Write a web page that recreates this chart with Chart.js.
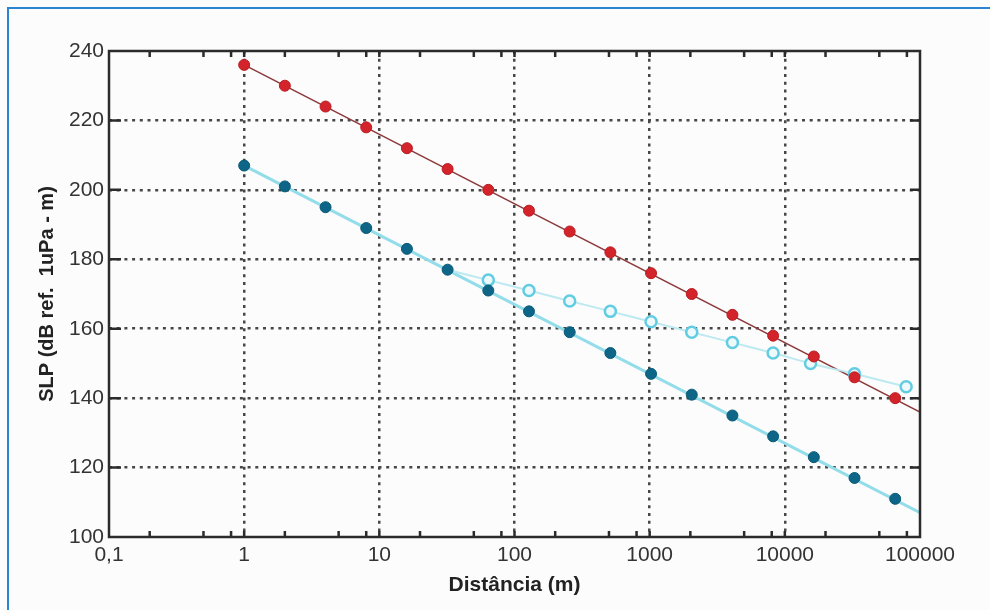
<!DOCTYPE html>
<html lang="pt">
<head>
<meta charset="utf-8">
<title>SLP x Distância</title>
<script src="https://cdn.jsdelivr.net/npm/chart.js@4.4.1/dist/chart.umd.min.js"></script>
<style>
    html, body { margin: 0; padding: 0; background: #fcfcfc; }
    #wrap { position: relative; width: 990px; height: 610px; overflow: hidden; }
    #frame {
        position: absolute; left: 7px; top: 7px; width: 1200px; height: 900px;
        border-left: 2px solid #2a84cf; border-top: 2px solid #2a84cf;
    }
    #chart { position: absolute; left: 0; top: 0; }
</style>
</head>
<body>
<div id="wrap">
    <div id="frame"></div>
    <canvas id="chart" width="990" height="610"></canvas>
</div>
<script>
// Dados
const distRed   = [1, 2, 4, 8, 16, 32, 64, 128, 256, 512, 1024, 2048, 4096, 8192, 16384, 32768, 65536];
const slpRed    = [236, 230, 224, 218, 212, 206, 200, 194, 188, 182, 176, 170, 164, 158, 152, 146, 140];

const distBlue  = [1, 2, 4, 8, 16, 32, 64, 128, 256, 512, 1024, 2048, 4096, 8192, 16384, 32768, 65536];
const slpBlue   = [207, 201, 195, 189, 183, 177, 171, 165, 159, 153, 147, 141, 135, 129, 123, 117, 111];

// curva dos círculos abertos (começa saindo da curva azul em 32 m)
const distCyan  = [32, 64, 128, 256, 512, 1024, 2048, 4096, 8192, 15500, 32768, 79000];
const slpCyan   = [177, 174, 171, 168, 165, 162, 159, 156, 153, 150, 147, 143.3];

// retas de ajuste (vão até a borda direita)
const fitDist   = [1, 100000];
const fitRed    = [236, 136];
const fitBlue   = [207, 107];

// Eixos
const xDecades  = [0.1, 1, 10, 100, 1000, 10000, 100000];
const xLabels   = ['0,1', '1', '10', '100', '1000', '10000', '100000'];
const xMinor    = [2, 5, 8];
const yTicks    = [100, 120, 140, 160, 180, 200, 220, 240];

const toPts = (xs, ys) => xs.map((x, i) => ({ x: x, y: ys[i] }));

const FONT = "'Liberation Sans', Arial, sans-serif";

// ticks para dentro + moldura da área do gráfico
const boxPlugin = {
    id: 'boxPlugin',
    afterDatasetsDraw(chart) {
        const { ctx, chartArea: a, scales } = chart;
        ctx.save();
        ctx.strokeStyle = '#2b2b2b';
        ctx.lineWidth = 2.5;
        ctx.beginPath();
        scales.x.ticks.forEach(t => {
            const px = scales.x.getPixelForValue(t.value);
            if (px <= a.left + 1 || px >= a.right - 1) return;
            ctx.moveTo(px, a.bottom); ctx.lineTo(px, a.bottom - 6);
            ctx.moveTo(px, a.top); ctx.lineTo(px, a.top + 6);
        });
        scales.y.ticks.forEach(t => {
            const py = scales.y.getPixelForValue(t.value);
            if (py <= a.top + 1 || py >= a.bottom - 1) return;
            ctx.moveTo(a.left, py); ctx.lineTo(a.left + 12, py);
            ctx.moveTo(a.right, py); ctx.lineTo(a.right - 10, py);
        });
        ctx.stroke();
        ctx.strokeRect(a.left, a.top, a.right - a.left, a.bottom - a.top);
        ctx.restore();
    }
};

const isDecade = v => xDecades.some(d => Math.abs(d - v) / d < 1e-6);

new Chart(document.getElementById('chart'), {
    type: 'line',
    data: {
        datasets: [
            {
                data: toPts(distRed, slpRed),
                showLine: false,
                pointRadius: 5.5,
                pointBackgroundColor: '#d3232b',
                pointBorderColor: '#b81c22',
                pointBorderWidth: 1,
                order: 1
            },
            {
                data: toPts(distBlue, slpBlue),
                showLine: false,
                pointRadius: 5.5,
                pointBackgroundColor: '#0d6688',
                pointBorderColor: '#0b5874',
                pointBorderWidth: 1,
                order: 1
            },
            {
                data: toPts(distCyan, slpCyan),
                borderColor: '#bde9f1',
                borderWidth: 2,
                tension: 0.3,
                pointRadius: c => c.dataIndex === 0 ? 0 : 5.5,
                pointBackgroundColor: '#eef9fb',
                pointBorderColor: '#62cde2',
                pointBorderWidth: 2.5,
                order: 2
            },
            {
                data: toPts(fitDist, fitRed),
                borderColor: '#8c3a3c',
                borderWidth: 1.5,
                pointRadius: 0,
                order: 3
            },
            {
                data: toPts(fitDist, fitBlue),
                borderColor: '#93dcea',
                borderWidth: 3,
                pointRadius: 0,
                order: 4
            }
        ]
    },
    options: {
        responsive: false,
        animation: false,
        layout: { padding: { left: 0, right: 70, top: 51, bottom: 0 } },
        plugins: {
            legend: { display: false },
            tooltip: { enabled: false }
        },
        scales: {
            x: {
                type: 'logarithmic',
                min: 0.1,
                max: 100000,
                afterBuildTicks: scale => {
                    const vals = [];
                    xDecades.forEach((d, i) => {
                        vals.push(d);
                        if (i < xDecades.length - 1) xMinor.forEach(m => vals.push(d * m));
                    });
                    scale.ticks = vals.map(v => ({ value: v }));
                },
                afterFit: scale => { scale.height = 73; },
                ticks: {
                    autoSkip: false,
                    maxRotation: 0,
                    padding: 6,
                    color: '#333',
                    font: { family: FONT, size: 21 },
                    callback: v => {
                        const i = xDecades.findIndex(d => Math.abs(d - v) / d < 1e-6);
                        return i >= 0 ? xLabels[i] : '';
                    }
                },
                grid: {
                    drawTicks: false,
                    lineWidth: 2.5,
                    color: c => {
                        const v = c.tick ? c.tick.value : null;
                        if (v === null || !isDecade(v) || v === 0.1 || v === 100000) return 'transparent';
                        return '#474747';
                    }
                },
                border: { display: false, dash: [3, 4.7] },
                title: {
                    display: true,
                    text: 'Distância (m)',
                    color: '#222',
                    font: { family: FONT, size: 21, weight: 'bold' },
                    padding: { top: 0, bottom: 12 }
                }
            },
            y: {
                min: 100,
                max: 240,
                afterBuildTicks: scale => {
                    scale.ticks = yTicks.map(v => ({ value: v }));
                },
                afterFit: scale => { scale.width = 109; },
                ticks: {
                    padding: 5,
                    color: '#333',
                    font: { family: FONT, size: 21 }
                },
                grid: {
                    drawTicks: false,
                    lineWidth: 2.5,
                    color: c => {
                        const v = c.tick ? c.tick.value : null;
                        if (v === null || v === 100 || v === 240) return 'transparent';
                        return '#474747';
                    }
                },
                border: { display: false, dash: [3, 4.7] },
                title: {
                    display: true,
                    text: 'SLP (dB ref.  1uPa - m)',
                    color: '#222',
                    font: { family: FONT, size: 20, weight: 'bold' },
                    padding: { top: 35, bottom: 0 }
                }
            }
        }
    },
    plugins: [boxPlugin]
});
</script>
</body>
</html>
